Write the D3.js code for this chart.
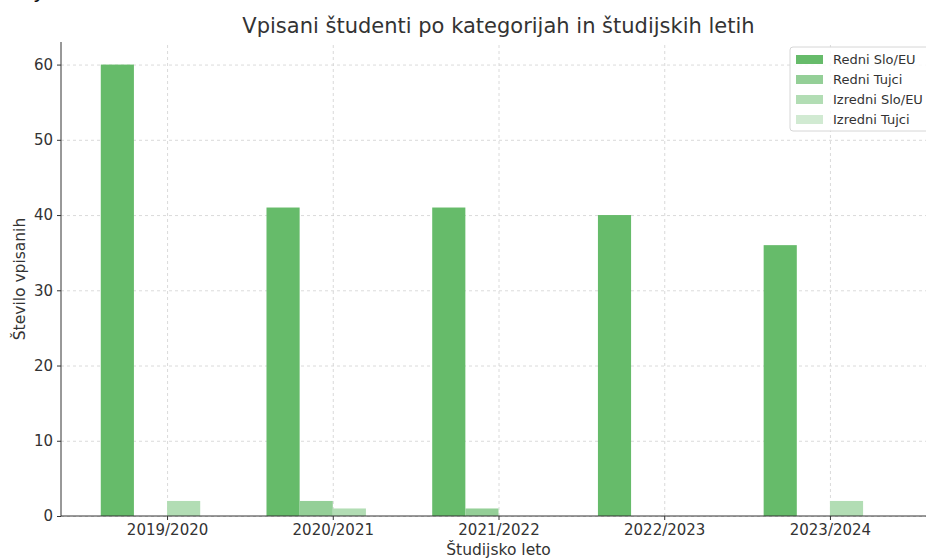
<!DOCTYPE html>
<html>
<head>
<meta charset="utf-8">
<script src="https://cdn.jsdelivr.net/npm/d3@7"></script>
<style>
  body { margin: 0; background: #fff; }
  svg { display: block; font-family: "DejaVu Sans", sans-serif; }
  .grid line { stroke: #d0d0d0; stroke-dasharray: 3,3; stroke-width: 0.8; }
  .grid .domain { display: none; }
  .axis line, .axis .domain { stroke: #333; }
</style>
</head>
<body>
<div id="chart"></div>
<script>
const years = ['2019/2020', '2020/2021', '2021/2022', '2022/2023', '2023/2024'];
const seriesNames = ['Redni Slo/EU', 'Redni Tujci', 'Izredni Slo/EU', 'Izredni Tujci'];
const redniSlo = [60, 41, 41, 40, 36];
const redniTujci = [0, 2, 1, 0, 0];
const izredniSlo = [2, 1, 0, 0, 2];
const izredniTujci = [0, 0, 0, 0, 0];
const yTicks = [0, 10, 20, 30, 40, 50, 60];

const seriesValues = [redniSlo, redniTujci, izredniSlo, izredniTujci];
const colors = ['#66bb6a', '#94cf97', '#b2ddb4', '#d1ead2'];
const FONT = '"DejaVu Sans", sans-serif';

const W = 926, H = 558;
const margin = { top: 42, left: 61, bottom: 42 };
const plotRight = 936; // plot runs past the right edge
const height = H - margin.top - margin.bottom;

const svg = d3.select('#chart').append('svg')
  .attr('width', W).attr('height', H);

// numeric x scale: group index, with 4 bars of 0.2 each
const x = d3.scaleLinear().domain([-0.64, 4.64]).range([margin.left, plotRight]);
const y = d3.scaleLinear().domain([0, 63]).range([H - margin.bottom, margin.top]);

// Grid
svg.append('g')
  .attr('class', 'grid')
  .attr('transform', `translate(${margin.left},0)`)
  .call(d3.axisLeft(y).tickValues(yTicks).tickSize(-(plotRight - margin.left)).tickFormat(''));

svg.append('g')
  .attr('class', 'grid')
  .attr('transform', `translate(0,${H - margin.bottom})`)
  .call(d3.axisBottom(x).tickValues(d3.range(years.length)).tickSize(-height).tickFormat(''));

// Bars
const barW = 0.2;
seriesValues.forEach((vals, si) => {
  svg.append('g')
    .selectAll('rect')
    .data(vals)
    .join('rect')
    .attr('x', (d, i) => x(i - 0.4 + si * barW))
    .attr('width', x(barW) - x(0))
    .attr('y', d => y(d))
    .attr('height', d => y(0) - y(d))
    .attr('fill', colors[si]);
});

// Axes
const xAxis = svg.append('g')
  .attr('class', 'axis')
  .attr('transform', `translate(0,${H - margin.bottom})`)
  .call(d3.axisBottom(x).tickValues(d3.range(years.length)).tickFormat(i => years[i]).tickSize(4).tickPadding(4));
xAxis.select('.domain').attr('d', `M${margin.left},0H${plotRight}`);

const yAxis = svg.append('g')
  .attr('class', 'axis')
  .attr('transform', `translate(${margin.left},0)`)
  .call(d3.axisLeft(y).tickValues(yTicks).tickSize(4).tickPadding(4));
yAxis.select('.domain').attr('d', `M0,${margin.top}V${H - margin.bottom}`);

[xAxis, yAxis].forEach(a => a.attr('font-family', FONT).attr('font-size', 15)
  .selectAll('text').attr('fill', '#333'));

// Title and labels
svg.append('text')
  .attr('x', (margin.left + plotRight) / 2)
  .attr('y', 33)
  .attr('text-anchor', 'middle')
  .attr('font-size', '21px')
  .attr('fill', '#333')
  .text('Vpisani študenti po kategorijah in študijskih letih');

// cut-off text above the figure
svg.append('text')
  .attr('x', 33)
  .attr('y', -2)
  .attr('font-size', '21px')
  .attr('fill', '#111')
  .text('y');

svg.append('text')
  .attr('x', (margin.left + plotRight) / 2)
  .attr('y', 555)
  .attr('text-anchor', 'middle')
  .attr('font-size', '15.5px')
  .attr('fill', '#333')
  .text('Študijsko leto');

svg.append('text')
  .attr('transform', 'rotate(-90)')
  .attr('x', -(margin.top + height / 2))
  .attr('y', 25)
  .attr('text-anchor', 'middle')
  .attr('font-size', '15.5px')
  .attr('fill', '#333')
  .text('Število vpisanih');

// Legend
const legend = svg.append('g').attr('transform', 'translate(790,47)');
legend.append('rect')
  .attr('x', 0).attr('y', 0)
  .attr('width', 145).attr('height', 84)
  .attr('rx', 3)
  .attr('fill', 'rgba(255,255,255,0.85)')
  .attr('stroke', '#d6d6d6');
seriesNames.forEach((name, i) => {
  legend.append('rect')
    .attr('x', 6).attr('y', 8 + i * 20)
    .attr('width', 27).attr('height', 9)
    .attr('fill', colors[i]);
  legend.append('text')
    .attr('x', 43).attr('y', 17 + i * 20)
    .attr('font-size', '13px')
    .attr('fill', '#333')
    .text(name);
});
</script>
</body>
</html>
